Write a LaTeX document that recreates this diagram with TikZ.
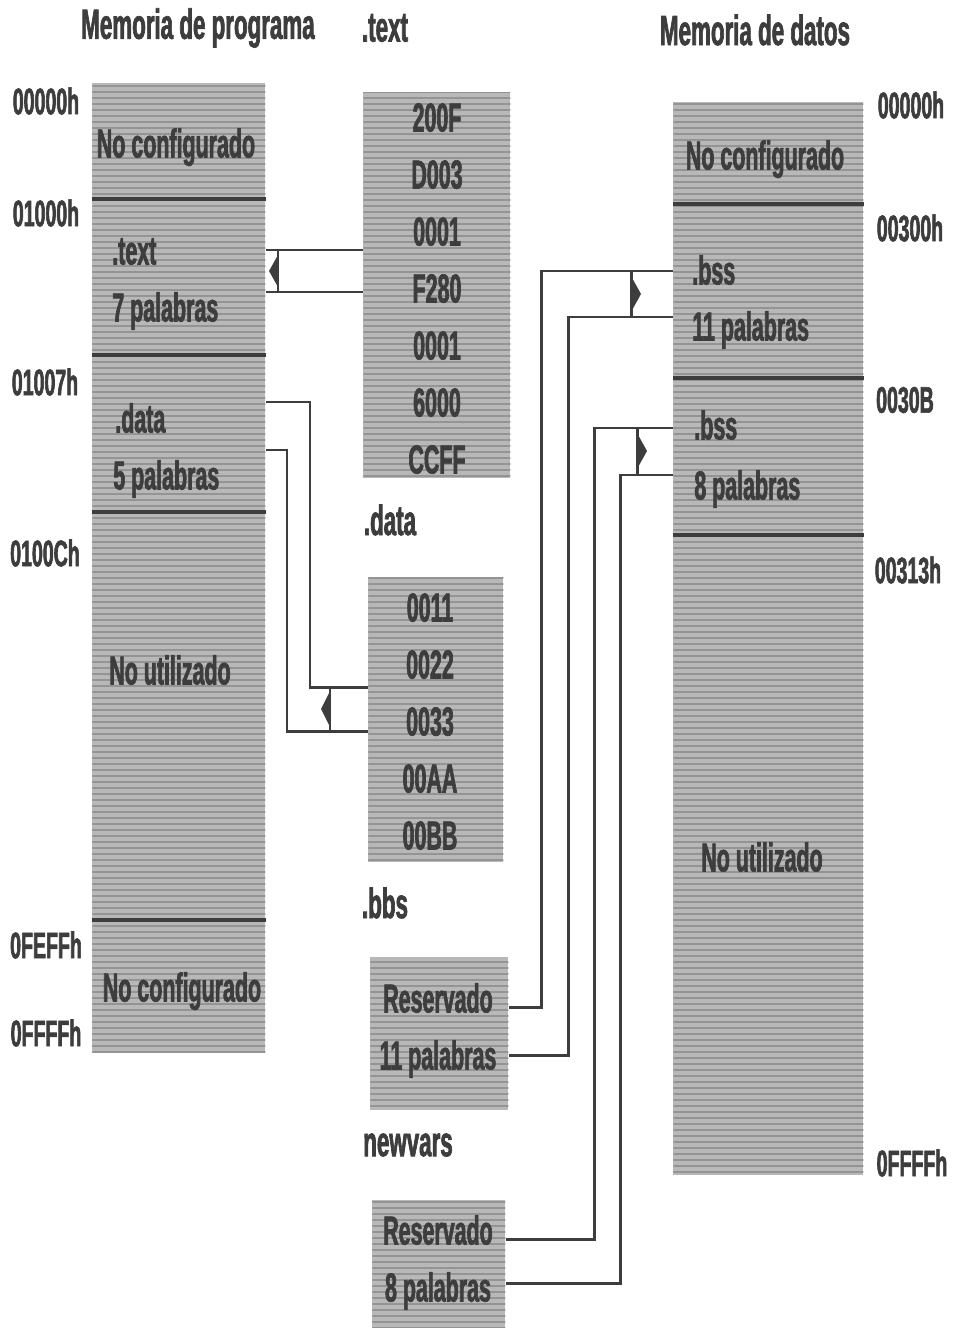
\documentclass[tikz,border=0pt]{standalone}
\usepackage{fontspec}
\usepackage{xcolor}
\usepackage{tikz}
\usetikzlibrary{positioning, patterns.meta}
\newfontfamily\condsans[FakeStretch=0.53, FakeBold=1.6]{Liberation Sans Bold}
\definecolor{memfill}{gray}{0.72}
\definecolor{memdots}{gray}{0.58}
\definecolor{ink}{gray}{0.24}

\begin{document}
\begin{tikzpicture}[
  x=0.02cm, y=-0.02cm,
  lbl/.style={font=\condsans\fontsize{23}{26}\selectfont, text=ink, inner sep=0pt},
  title/.style={lbl, font=\condsans\fontsize{24}{28}\selectfont},
  addr/.style={lbl, font=\condsans\fontsize{21}{24}\selectfont},
  word/.style={lbl, minimum height=1.126cm, text height=0.58cm, text depth=0cm},
  mem/.style={fill=memfill, anchor=north west, inner sep=0pt,
              postaction={pattern={Lines[angle=0, distance=0.12cm, line width=0.035cm]},
                          pattern color=memdots}},
  divider/.style={draw=ink, line width=2.2pt},
  link/.style={draw=ink, line width=1.7pt}
]
\useasboundingbox (0,0) rectangle (955,1328);

% titles
\node[title] (ttlprog) at (198,28) {Memoria de programa};
\node[title] (ttltext) at (385,28) {.text};
\node[title] (ttldata) at (755,30) {Memoria de datos};

% memory maps and sections
\node[mem, minimum width=3.46cm, minimum height=19.4cm] (pmem) at (92,83) {};
\node[mem, minimum width=2.94cm, minimum height=7.72cm] (textsec) at (363,92) {};
\node[mem, minimum width=2.7cm, minimum height=5.7cm] (datasec) at (368,577) {};
\node[mem, minimum width=2.76cm, minimum height=3.06cm] (bbssec) at (370,957) {};
\node[mem, minimum width=2.66cm, minimum height=2.56cm] (varsec) at (372,1200) {};
\node[mem, minimum width=3.8cm, minimum height=21.46cm] (dmem) at (673,102) {};

% program memory
\draw[divider] (pmem.west |- 0,199) -- (pmem.east |- 0,199);
\draw[divider] (pmem.west |- 0,355) -- (pmem.east |- 0,355);
\draw[divider] (pmem.west |- 0,512) -- (pmem.east |- 0,512);
\draw[divider] (pmem.west |- 0,920) -- (pmem.east |- 0,920);
\node[word] (pnocfg) at (176,143) {No configurado};
\node[word, anchor=west] (ptext) at (112,250) {.text};
\node[word, anchor=west] (ptextn) at (112,307) {7 palabras};
\node[word, anchor=west] (pdata) at (115,418) {.data};
\node[word, anchor=west] (pdatan) at (113,475) {5 palabras};
\node[word] (pnouse) at (170,670) {No utilizado};
\node[word] (pnocfgb) at (182,987) {No configurado};

\node[addr] (pa0) at (46,101) {00000h};
\node[addr] (pa1) at (46,213) {01000h};
\node[addr] (pa2) at (45,382) {01007h};
\node[addr] (pa3) at (45,553) {0100Ch};
\node[addr] (pa4) at (46,945) {0FEFFh};
\node[addr] (pa5) at (46,1033) {0FFFFh};

% .text section
\node[word] (tw1) at (437,117) {200F};
\node[word, below=0pt of tw1] (tw2) {D003};
\node[word, below=0pt of tw2] (tw3) {0001};
\node[word, below=0pt of tw3] (tw4) {F280};
\node[word, below=0pt of tw4] (tw5) {0001};
\node[word, below=0pt of tw5] (tw6) {6000};
\node[word, below=0pt of tw6] (tw7) {CCFF};

% .data section
\node[title] (ttldsec) at (390,520) {.data};
\node[word] (dw1) at (430,607) {0011};
\node[word, below=0pt of dw1] (dw2) {0022};
\node[word, below=0pt of dw2] (dw3) {0033};
\node[word, below=0pt of dw3] (dw4) {00AA};
\node[word, below=0pt of dw4] (dw5) {00BB};

% .bbs section
\node[title] (ttlbbs) at (385,903) {.bbs};
\node[word] (bres) at (438,998) {Reservado};
\node[word, below=0pt of bres] (bnum) {11 palabras};

% newvars section
\node[title] (ttlvars) at (408,1145) {newvars};
\node[word] (vres) at (438,1230) {Reservado};
\node[word, below=0pt of vres] (vnum) {8 palabras};

% data memory
\draw[divider] (dmem.west |- 0,204) -- (dmem.east |- 0,204);
\draw[divider] (dmem.west |- 0,378) -- (dmem.east |- 0,378);
\draw[divider] (dmem.west |- 0,535) -- (dmem.east |- 0,535);
\node[word] (dnocfg) at (765,155) {No configurado};
\node[word, anchor=west] (dbss1) at (692,270) {.bss};
\node[word, anchor=west] (dbss1n) at (692,326) {11 palabras};
\node[word, anchor=west] (dbss2) at (694,425) {.bss};
\node[word, anchor=west] (dbss2n) at (694,485) {8 palabras};
\node[word] (dnouse) at (762,857) {No utilizado};

\node[addr] (da0) at (911,105) {00000h};
\node[addr] (da1) at (910,228) {00300h};
\node[addr] (da2) at (905,400) {0030B};
\node[addr] (da3) at (908,570) {00313h};
\node[addr] (da4) at (912,1163) {0FFFFh};

% links
\coordinate (mtext) at (278,271);
\coordinate (mdata) at (330,709);
\coordinate (mbss) at (631,294);
\coordinate (mvars) at (637,451);

\draw[link] (textsec.west |- 0,250) -- (pmem.east |- 0,250)
            (textsec.west |- 0,292) -- (pmem.east |- 0,292)
            (278,250) -- (278,292);
\fill[ink] (mtext) ++(0,-16) -- ++(-9,16) -- ++(9,16) -- cycle;

\draw[link] (datasec.west |- 0,687) -- (310,687) -- (310,402) -- (pmem.east |- 0,402);
\draw[link] (datasec.west |- 0,731) -- (287,731) -- (287,450) -- (pmem.east |- 0,450);
\draw[link] (330,687) -- (330,731);
\fill[ink] (mdata) ++(0,-18) -- ++(-9,18) -- ++(9,18) -- cycle;

\draw[link] (bbssec.east |- 0,1007) -- (541,1007) -- (541,271) -- (dmem.west |- 0,271);
\draw[link] (bbssec.east |- 0,1055) -- (568,1055) -- (568,317) -- (dmem.west |- 0,317);
\draw[link] (631,271) -- (631,317);
\fill[ink] (mbss) ++(0,-18) -- ++(10,18) -- ++(-10,18) -- cycle;

\draw[link] (varsec.east |- 0,1239) -- (594,1239) -- (594,428) -- (dmem.west |- 0,428);
\draw[link] (varsec.east |- 0,1283) -- (620,1283) -- (620,475) -- (dmem.west |- 0,475);
\draw[link] (637,428) -- (637,475);
\fill[ink] (mvars) ++(0,-18) -- ++(10,18) -- ++(-10,18) -- cycle;
\end{tikzpicture}
\end{document}
